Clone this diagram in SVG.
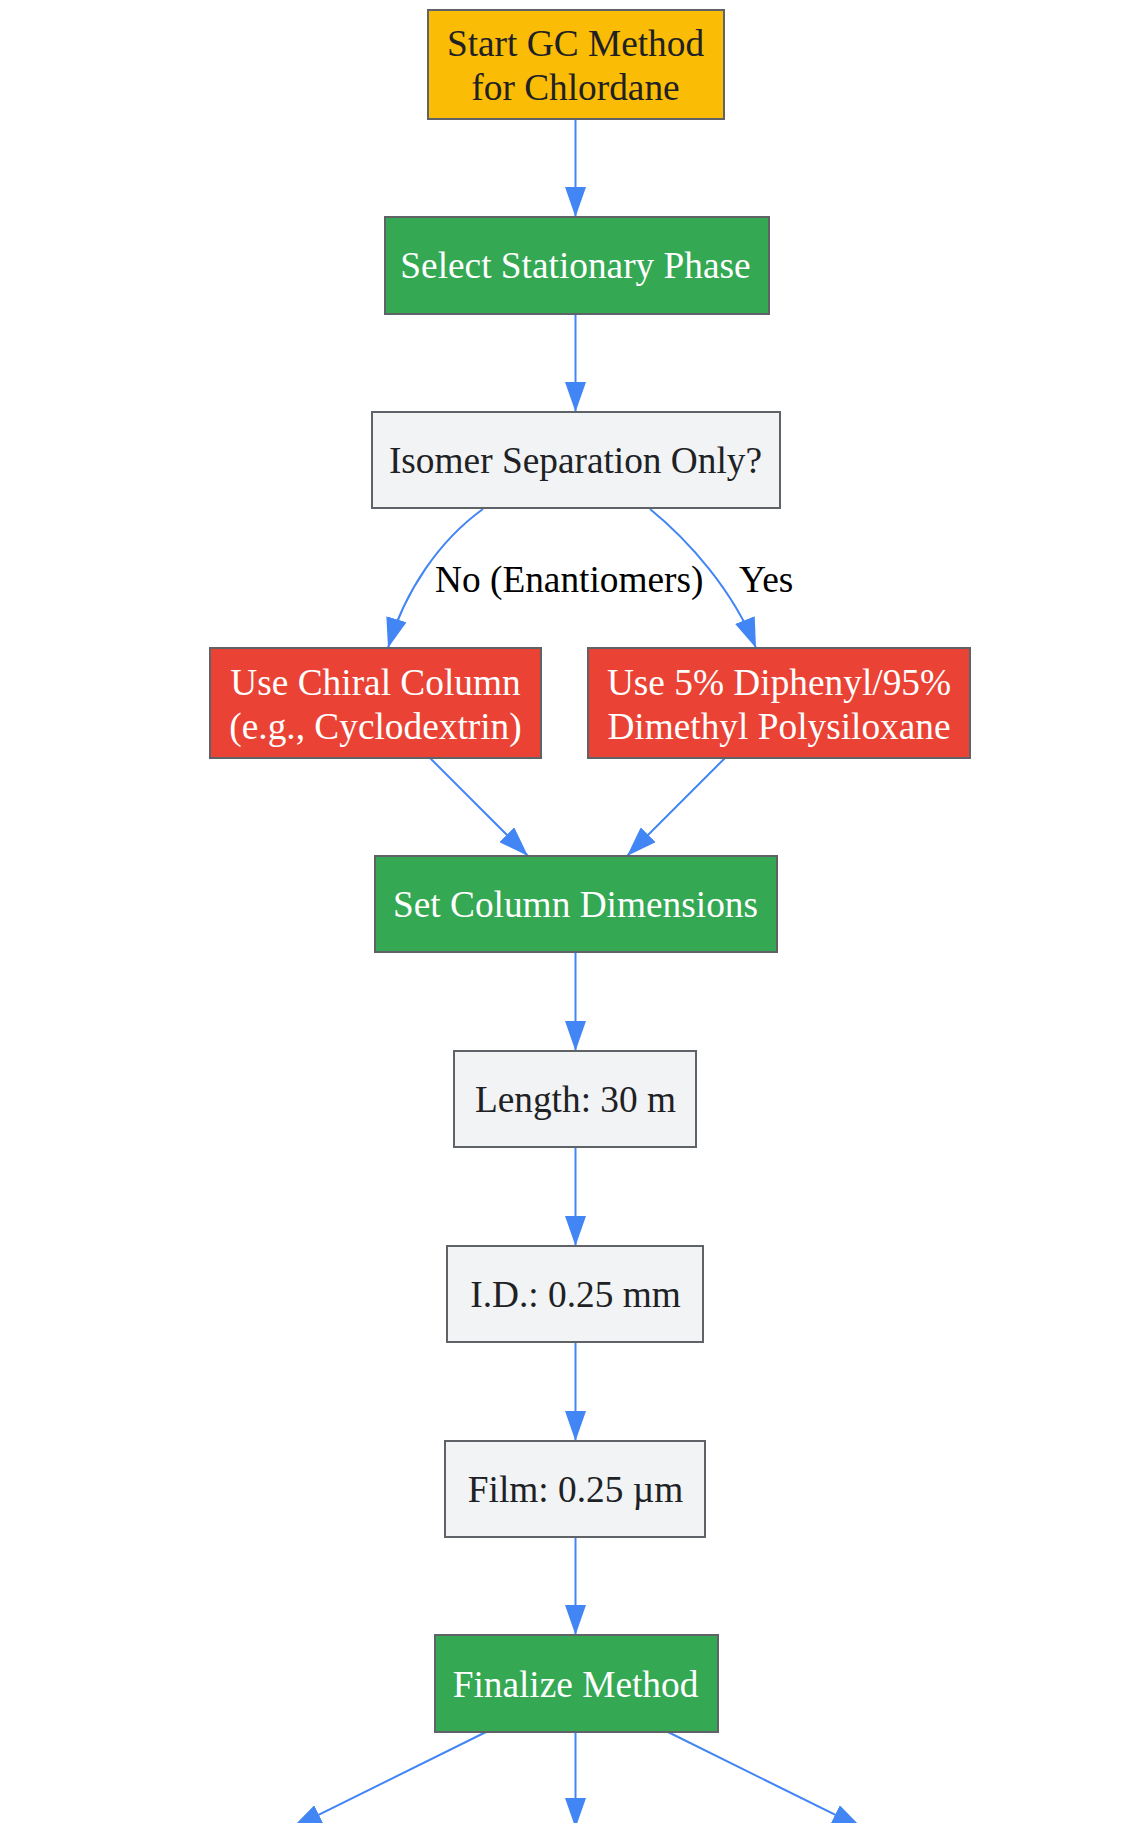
<svg xmlns="http://www.w3.org/2000/svg" width="1143" height="1823" viewBox="0 0 1143 1823">
<style>
.n rect{stroke:#5F6368;stroke-width:2}
.y rect{fill:#FBBC05}
.g rect{fill:#34A853}
.r rect{fill:#EA4335}
.w rect{fill:#F1F3F4}
text{font-family:"Liberation Serif","Times New Roman",serif;font-size:37.33px;text-anchor:middle}
.y text,.w text{fill:#202124}
.g text,.r text{fill:#FFFFFF}
.e path{fill:none;stroke:#4285F4;stroke-width:2;marker-end:url(#ah)}
.lbl{fill:#000000;text-anchor:start}
</style>
<defs>
<marker id="ah" viewBox="0 0 30 21" refX="30" refY="10.5" markerWidth="30" markerHeight="21" markerUnits="userSpaceOnUse" orient="auto">
<path d="M0,0 L30,10.5 L0,21 Z" fill="#4285F4"/>
</marker>
</defs>
<rect width="1143" height="1823" fill="#FFFFFF"/>
<g id="edges" class="e">
<path d="M575.5,119 L575.5,217"/>
<path d="M575.5,314 L575.5,412"/>
<path d="M483,509 C440,540 405,590 388,648"/>
<path d="M650,509 C688,540 733,590 756,648"/>
<path d="M430,758 L528,856"/>
<path d="M725,758 L627,856"/>
<path d="M575.5,952 L575.5,1051"/>
<path d="M575.5,1147 L575.5,1246"/>
<path d="M575.5,1342 L575.5,1441"/>
<path d="M575.5,1537 L575.5,1635"/>
<path d="M486,1732 L292,1828"/>
<path d="M575.5,1732 L575.5,1828"/>
<path d="M668,1732 L862,1828"/>
<text class="lbl" x="435" y="592">No (Enantiomers)</text>
<text class="lbl" x="739" y="592">Yes</text>
</g>
<g id="start" class="n y">
<rect x="428" y="10" width="296" height="109"/>
<text x="575.5" y="56">Start GC Method</text>
<text x="575.5" y="100">for Chlordane</text>
</g>
<g id="select" class="n g">
<rect x="385" y="217" width="384" height="97"/>
<text x="575.5" y="278">Select Stationary Phase</text>
</g>
<g id="isomer" class="n w">
<rect x="372" y="412" width="408" height="96"/>
<text x="575.5" y="473">Isomer Separation Only?</text>
</g>
<g id="chiral" class="n r">
<rect x="210" y="648" width="331" height="110"/>
<text x="375.5" y="695">Use Chiral Column</text>
<text x="375.5" y="739">(e.g., Cyclodextrin)</text>
</g>
<g id="diphenyl" class="n r">
<rect x="588" y="648" width="382" height="110"/>
<text x="779" y="695">Use 5% Diphenyl/95%</text>
<text x="779" y="739">Dimethyl Polysiloxane</text>
</g>
<g id="setdims" class="n g">
<rect x="375" y="856" width="402" height="96"/>
<text x="575.5" y="917">Set Column Dimensions</text>
</g>
<g id="length" class="n w">
<rect x="454" y="1051" width="242" height="96"/>
<text x="575.5" y="1112">Length: 30 m</text>
</g>
<g id="id" class="n w">
<rect x="447" y="1246" width="256" height="96"/>
<text x="575.5" y="1307">I.D.: 0.25 mm</text>
</g>
<g id="film" class="n w">
<rect x="445" y="1441" width="260" height="96"/>
<text x="575.5" y="1502">Film: 0.25 µm</text>
</g>
<g id="finalize" class="n g">
<rect x="435" y="1635" width="283" height="97"/>
<text x="575.5" y="1697">Finalize Method</text>
</g>
</svg>
